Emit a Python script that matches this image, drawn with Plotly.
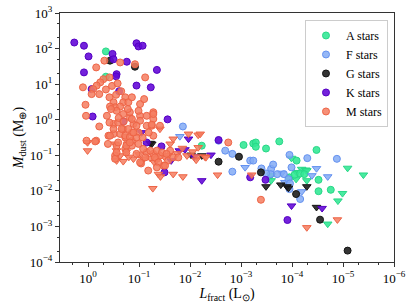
import numpy as np
import plotly.graph_objects as go

# log10(L_fract), log10(M_dust)
A_det_logL = [-0.35, -0.35, -2.23, -3.05, -3.24, -3.29, -3.29, -3.49, -3.75, -4.48, -4.09, -3.95, -4.05, -4.16, -4.52, -4.52, -4.76, -4.24]
A_det_logM = [1.92, 1.21, -0.73, -0.71, -0.67, -0.64, -0.76, -0.81, -0.61, -0.85, -1.15, -1.62, -1.55, -1.51, -1.69, -2.01, -1.97, -1.53]
A_lim_logL = [-3.99, -4.19, -4.27, -4.09, -4.08, -4.29, -5.09, -5.40, -4.99, -4.90, -4.70, -3.59, -3.59, -4.29]
A_lim_logM = [-1.08, -1.39, -1.41, -1.48, -1.67, -1.71, -1.36, -1.55, -2.07, -2.28, -2.93, -1.57, -1.71, -1.43]

F_det_logL = [-1.86, -2.56, -2.69, -2.83, -3.18, -3.24, -2.83, -3.40, -3.59, -3.63, -3.58, -3.71, -3.84, -3.95, -3.99, -4.30, -4.88, -3.93, -3.95, -4.16, -3.49, -3.96]
F_det_logM = [-0.19, -0.59, -0.87, -0.96, -1.15, -1.15, -1.46, -1.37, -1.38, -1.26, -1.53, -1.53, -1.53, -0.99, -1.34, -1.08, -1.10, -1.67, -1.95, -2.23, -1.51, -1.79]
F_lim_logL = [-1.80, -3.08, -4.48, -4.70, -4.39, -3.86, -4.19, -3.80]
F_lim_logM = [-0.47, -1.34, -1.37, -1.60, -1.57, -1.76, -2.02, -1.50]

G_det_logL = [-0.43, -0.92, -2.56, -2.96, -3.39, -4.08, -4.55, -5.09]
G_det_logM = [1.66, 1.49, -1.18, -1.04, -1.48, -2.09, -2.81, -3.68]
G_lim_logL = [-1.25, -1.22, -2.02, -2.23, -3.49, -3.78, -3.90, -4.29, -4.48, -3.93]
G_lim_logM = [-0.68, -0.66, -0.99, -1.01, -1.88, -1.83, -1.88, -1.88, -2.46, -1.92]

K_det_logL = [0.27, 0.08, -0.01, 0.08, -0.07, -0.09, -0.48, -0.50, -0.56, -0.55, -0.61, -0.76, -0.95, -0.99, -1.07, -0.95, -1.23, -1.35, -0.69, -1.56, -1.44, -1.50, -1.15, -2.56, -3.18, -3.48, -3.91]
K_det_logM = [2.17, 2.08, 1.78, 1.33, 0.86, 0.09, 1.85, 1.70, 1.28, 1.22, 0.80, 1.63, 2.15, 2.06, 2.08, 0.96, 0.91, 1.40, -0.05, 0.01, -0.75, -1.48, -0.64, -0.57, -1.62, -1.69, -2.82]
K_lim_logL = [-1.05, -1.97, -1.79, -1.90, -1.63, -2.08, -2.23, -2.41, -3.99, -4.59]
K_lim_logM = [-0.36, -0.54, -0.87, -0.84, -1.15, -1.04, -1.71, -0.99, -2.42, -2.49]

M_det_logL = [-0.32, -0.16, -0.63, -0.42, -0.30, -0.24, -0.17, 0.10, -0.10, -0.07, -0.22, -0.42, 0.05, -0.50, -0.53, -0.43, -0.73, -0.69, -0.79, -0.63,
              0.04, -0.22, -0.92, -1.12, -1.02, -1.10, -0.86, -0.37, -0.50, -0.56, -0.69, -0.82, -0.89, -1.02, -1.15, -1.28, -1.28, -1.15, -1.25, -1.41,
              -0.99, -0.86, -0.69, -0.63, -0.73, -0.50, -0.40, 0.03, -0.16, -0.86, -0.95, -1.07, -1.28, -1.19, -0.76, -0.56, -0.39,
              -0.53, -0.53, -1.04, -1.48, -0.73, -0.86, -0.95, -1.15, -1.28, -1.35, -1.41, -1.61, -0.56,
              -0.14, -0.43, -0.59, -0.75, -0.42, -0.50, -0.66, -0.59, -0.73, -0.75, -0.82,
              -0.82, -0.99, -1.28, -0.86, -1.02, -1.25, -0.95, -0.79, -0.89, -0.82, -0.99, -1.08, -1.22, -1.35, -1.45, -1.54, -1.31, -1.12,
              -1.02, -1.38, -1.57, -1.67, -1.77, -1.51, -1.35, -1.18,
              -0.45, -0.60, -0.70, -0.78, -0.55, -0.65, -0.35, -0.47, -0.58, -2.75, -3.39]
M_det_logM = [1.66, 1.47, 1.61, 1.19, 1.14, 1.05, 0.96, 0.91, 0.86, 0.72, 0.72, 0.63, 0.42, 0.49, 0.35, 0.37, 0.63, 0.49, 0.49, 0.37,
              0.11, -0.19, 1.56, 1.19, 0.44, 0.58, 0.63, 0.11, -0.12, 0.25, 0.16, 0.06, -0.12, 0.11, 0.11, 0.21, 0.02, -0.17, -0.17, -0.17,
              -0.36, -0.36, -0.26, -0.40, -0.50, -0.40, -0.45, -0.59, -0.59, -0.59, -0.50, -0.50, -0.45, -0.36, -0.68, -0.73, -0.68,
              -1.01, -1.10, -1.23, -1.29, -0.82, -0.73, -0.96, -0.92, -0.96, -1.10, -1.01, -0.87, -0.92,
              -0.61, -0.45, -0.64, -0.73, -0.08, -0.26, -0.26, -0.08, -0.45, -0.92, -0.49,
              0.21, 0.25, 0.16, 0.02, -0.03, -0.14, -0.17, -0.26, -0.36, -0.64, -0.68, -0.82, -0.87, -0.87, -0.92, -0.96, -1.06, -1.06,
              -1.20, -1.20, -1.15, -1.06, -1.06, -1.29, -1.34, -1.43,
              0.30, 0.05, -0.05, 0.30, 0.70, 0.80, 0.85, 0.95, 1.02, -0.64, -2.25]
M_lim_logL = [0.01, -1.41, -1.67, -2.16, -1.61, 0.01, -0.56, -0.69, -0.89, -1.09, -1.22, -1.67, -1.86, -1.38, -1.42, -1.27, -1.94, -2.13, -2.29,
              -0.53, -0.56, -0.63, -1.97, -2.31, -2.54, -3.21, -4.89, -4.29, -2.20, -1.58, -1.75, -1.50, -0.80, -1.00, -1.30, -0.75, -1.85, -2.05, -2.16, -2.12]
M_lim_logM = [-0.64, -0.26, -0.54, -0.43, -0.68, -0.87, -1.15, -1.17, -1.10, -1.10, -1.08, -1.53, -1.60, -1.53, -1.60, -1.93, -1.01, -1.04, -1.04,
              -0.68, -0.87, -1.01, -0.40, -1.06, -1.55, -1.55, -2.81, -3.03, -0.40, -1.00, -0.95, -1.05, -1.05, -0.98, -1.20, -0.90, -0.80, -0.90, -0.78, -1.13]

classes = ["A stars", "F stars", "G stars", "K stars", "M stars"]
x_tick_exps = [0, -1, -2, -3, -4, -5, -6]
y_tick_exps = [-4, -3, -2, -1, 0, 1, 2, 3]

fills = ["rgba(52,232,150,0.9)", "rgba(130,170,245,0.85)", "rgba(30,30,30,0.9)", "rgba(100,10,215,0.9)", "rgba(245,125,95,0.85)"]
edges = ["rgb(40,215,135)", "rgb(100,145,240)", "rgb(20,20,20)", "rgb(85,0,195)", "rgb(238,100,70)"]

data = {
    "A stars": (A_det_logL, A_det_logM, A_lim_logL, A_lim_logM),
    "F stars": (F_det_logL, F_det_logM, F_lim_logL, F_lim_logM),
    "G stars": (G_det_logL, G_det_logM, G_lim_logL, G_lim_logM),
    "K stars": (K_det_logL, K_det_logM, K_lim_logL, K_lim_logM),
    "M stars": (M_det_logL, M_det_logM, M_lim_logL, M_lim_logM),
}

fig = go.Figure()
for name, fc, ec in zip(classes, fills, edges):
    dl, dm, ll, lm = data[name]
    fig.add_trace(go.Scatter(
        x=np.power(10.0, ll), y=np.power(10.0, lm), mode="markers", name=name,
        legendgroup=name, showlegend=False,
        marker=dict(symbol="triangle-down", size=7.5, color=fc, line=dict(color=ec, width=1))))
    fig.add_trace(go.Scatter(
        x=np.power(10.0, dl), y=np.power(10.0, dm), mode="markers", name=name,
        legendgroup=name, showlegend=True,
        marker=dict(symbol="circle", size=7, color=fc, line=dict(color=ec, width=1))))


def pow_label(e):
    s = str(e).replace("-", "\u2212")
    return "10<sup>" + s + "</sup>"


serif = "Liberation Serif, Times New Roman, serif"
axis_common = dict(
    type="log", showgrid=False, zeroline=False, automargin=False, ticklabeloverflow="allow",
    showline=True, linecolor="#333", linewidth=1, mirror=True,
    ticks="outside", ticklen=4, tickcolor="#333", tickfont=dict(family=serif, size=13, color="black"),
    minor=dict(ticks="outside", ticklen=2, tickcolor="#333", showgrid=False),
)
fig.update_xaxes(range=[0.55, -6],
                 tickvals=[10.0 ** e for e in x_tick_exps], ticktext=[pow_label(e) for e in x_tick_exps],
                 title=dict(text="<i>L</i><sub>fract</sub> (L<sub>⊙</sub>)", font=dict(family=serif, size=14, color="black"), standoff=2),
                 **axis_common)
fig.update_yaxes(range=[-4, 3],
                 tickvals=[10.0 ** e for e in y_tick_exps], ticktext=[pow_label(e) for e in y_tick_exps],
                 title=dict(text="<i>M</i><sub>dust</sub> (M<sub>⊕</sub>)", font=dict(family=serif, size=14, color="black"), standoff=2),
                 **axis_common)

fig.update_layout(
    width=416, height=303, margin=dict(l=60, r=22, t=13, b=41),
    paper_bgcolor="white", plot_bgcolor="white",
    font=dict(family=serif, size=13, color="black"),
    legend=dict(x=0.982, y=0.972, xanchor="right", yanchor="top", bgcolor="rgba(255,255,255,0.9)",
                bordercolor="#ccc", borderwidth=1, font=dict(family=serif, size=12),
                itemwidth=30, tracegroupgap=0, traceorder="normal"),
)
# remove the default 8px page margin so the figure fills the window exactly
fig.write_html("out.html", config={"displayModeBar": False},
               post_script="document.body.style.margin='0';document.body.style.overflow='hidden';")
